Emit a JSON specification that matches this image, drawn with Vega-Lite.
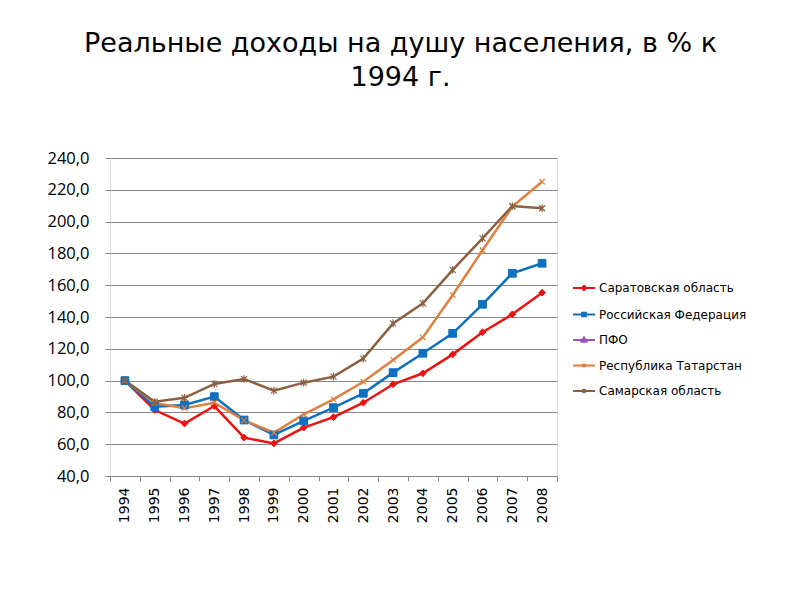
{
  "$schema": "https://vega.github.io/schema/vega-lite/v6.json",
  "width": 447,
  "height": 318,
  "autosize": {"type": "none"},
  "padding": {"left": 110, "top": 158, "right": 243, "bottom": 124},
  "background": "white",
  "title": {
    "text": ["Реальные доходы на душу населения, в % к", "1994 г."],
    "font": "DejaVu Sans",
    "fontSize": 27,
    "fontWeight": "normal",
    "color": "#000000",
    "lineHeight": 34,
    "anchor": "middle",
    "frame": "group",
    "dx": 67,
    "offset": 58
  },
  "data": {
    "values": [
      {"year": "1994", "series": "Саратовская область", "value": 100},
      {"year": "1995", "series": "Саратовская область", "value": 81.5},
      {"year": "1996", "series": "Саратовская область", "value": 73},
      {"year": "1997", "series": "Саратовская область", "value": 84},
      {"year": "1998", "series": "Саратовская область", "value": 64.1},
      {"year": "1999", "series": "Саратовская область", "value": 60.5},
      {"year": "2000", "series": "Саратовская область", "value": 70.4},
      {"year": "2001", "series": "Саратовская область", "value": 77},
      {"year": "2002", "series": "Саратовская область", "value": 86.1},
      {"year": "2003", "series": "Саратовская область", "value": 97.7},
      {"year": "2004", "series": "Саратовская область", "value": 104.6},
      {"year": "2005", "series": "Саратовская область", "value": 116.5},
      {"year": "2006", "series": "Саратовская область", "value": 130.4},
      {"year": "2007", "series": "Саратовская область", "value": 141.7},
      {"year": "2008", "series": "Саратовская область", "value": 155.3},
      {"year": "1994", "series": "Российская Федерация", "value": 100},
      {"year": "1995", "series": "Российская Федерация", "value": 83.6},
      {"year": "1996", "series": "Российская Федерация", "value": 84.7},
      {"year": "1997", "series": "Российская Федерация", "value": 89.9},
      {"year": "1998", "series": "Российская Федерация", "value": 75.2},
      {"year": "1999", "series": "Российская Федерация", "value": 65.8},
      {"year": "2000", "series": "Российская Федерация", "value": 74.6},
      {"year": "2001", "series": "Российская Федерация", "value": 83},
      {"year": "2002", "series": "Российская Федерация", "value": 92},
      {"year": "2003", "series": "Российская Федерация", "value": 105},
      {"year": "2004", "series": "Российская Федерация", "value": 117.2},
      {"year": "2005", "series": "Российская Федерация", "value": 129.7},
      {"year": "2006", "series": "Российская Федерация", "value": 148},
      {"year": "2007", "series": "Российская Федерация", "value": 167.5},
      {"year": "2008", "series": "Российская Федерация", "value": 173.8},
      {"year": "1994", "series": "Республика Татарстан", "value": 100},
      {"year": "1995", "series": "Республика Татарстан", "value": 86},
      {"year": "1996", "series": "Республика Татарстан", "value": 82.6},
      {"year": "1997", "series": "Республика Татарстан", "value": 86.1},
      {"year": "1998", "series": "Республика Татарстан", "value": 75},
      {"year": "1999", "series": "Республика Татарстан", "value": 67.2},
      {"year": "2000", "series": "Республика Татарстан", "value": 78.8},
      {"year": "2001", "series": "Республика Татарстан", "value": 88.2},
      {"year": "2002", "series": "Республика Татарстан", "value": 99.3},
      {"year": "2003", "series": "Республика Татарстан", "value": 113},
      {"year": "2004", "series": "Республика Татарстан", "value": 127.2},
      {"year": "2005", "series": "Республика Татарстан", "value": 153.8},
      {"year": "2006", "series": "Республика Татарстан", "value": 182},
      {"year": "2007", "series": "Республика Татарстан", "value": 209.4},
      {"year": "2008", "series": "Республика Татарстан", "value": 225.1},
      {"year": "1994", "series": "Самарская область", "value": 100},
      {"year": "1995", "series": "Самарская область", "value": 86.7},
      {"year": "1996", "series": "Самарская область", "value": 89.2},
      {"year": "1997", "series": "Самарская область", "value": 97.9},
      {"year": "1998", "series": "Самарская область", "value": 101},
      {"year": "1999", "series": "Самарская область", "value": 93.7},
      {"year": "2000", "series": "Самарская область", "value": 98.7},
      {"year": "2001", "series": "Самарская область", "value": 102.5},
      {"year": "2002", "series": "Самарская область", "value": 113.8},
      {"year": "2003", "series": "Самарская область", "value": 136},
      {"year": "2004", "series": "Самарская область", "value": 148.6},
      {"year": "2005", "series": "Самарская область", "value": 169.6},
      {"year": "2006", "series": "Самарская область", "value": 189.5},
      {"year": "2007", "series": "Самарская область", "value": 209.8},
      {"year": "2008", "series": "Самарская область", "value": 208.4}
    ]
  },
  "encoding": {
    "x": {
      "field": "year",
      "type": "ordinal",
      "title": null,
      "scale": {"paddingInner": 0, "paddingOuter": 0},
      "axis": {
        "labelAngle": -90,
        "labelFont": "DejaVu Sans",
        "labelFontSize": 14,
        "labelColor": "#000000",
        "labelPadding": 6,
        "domainColor": "#888888",
        "tickColor": "#888888",
        "tickSize": 5,
        "tickBand": "extent",
        "grid": false
      }
    },
    "y": {
      "field": "value",
      "type": "quantitative",
      "title": null,
      "scale": {"domain": [40, 240], "nice": false, "zero": false},
      "axis": {
        "values": [40, 60, 80, 100, 120, 140, 160, 180, 200, 220, 240],
        "labelExpr": "replace(format(datum.value, '.1f'), '.', ',')",
        "labelFont": "Open Sans",
        "labelFontSize": 16.5,
        "labelColor": "#000000",
        "labelPadding": 16,
        "ticks": true,
        "tickSize": 5,
        "tickColor": "#888888",
        "domain": false,
        "grid": true,
        "gridColor": "#888888",
        "gridWidth": 1
      }
    }
  },
  "layer": [
    {
      "mark": {"type": "line", "strokeWidth": 2.5},
      "encoding": {
        "color": {
          "field": "series",
          "type": "nominal",
          "scale": {
            "domain": ["Саратовская область", "Российская Федерация", "ПФО", "Республика Татарстан", "Самарская область"],
            "range": ["#EE1111", "#1070C0", "#9B50B8", "#DD8040", "#8B6040"]
          },
          "legend": {
            "title": null,
            "orient": "none",
            "legendX": 462,
            "legendY": 118,
            "labelFont": "DejaVu Sans",
            "labelFontSize": 12,
            "labelColor": "#000000",
            "symbolSize": 484,
            "symbolStrokeWidth": 2,
            "rowPadding": 7.5,
            "labelOffset": 3,
            "encode": {
              "symbols": {
                "update": {
                  "shape": {"signal": "datum.value === 'Саратовская область' ? 'M-1,0H1M0,-0.2L0.2,0L0,0.2L-0.2,0Z' : datum.value === 'Российская Федерация' ? 'M-1,0H1M-0.17,-0.17H0.17V0.17H-0.17Z' : datum.value === 'ПФО' ? 'M-1,0H1M0,-0.22L0.22,0.17H-0.22Z' : datum.value === 'Республика Татарстан' ? 'M-1,0H1M-0.15,-0.15L0.15,0.15M-0.15,0.15L0.15,-0.15' : 'M-1,0H1M-0.15,-0.15L0.15,0.15M-0.15,0.15L0.15,-0.15M0,-0.2V0.2'"},
                  "stroke": {"scale": "color", "field": "value"},
                  "fill": {"scale": "color", "field": "value"},
                  "strokeWidth": {"value": 2},
                  "size": {"value": 484},
                  "opacity": {"value": 1}
                }
              }
            }
          }
        }
      }
    },
    {
      "transform": [{"filter": "datum.series === 'Саратовская область'"}],
      "mark": {"type": "point", "shape": "diamond", "filled": true, "fill": "#EE1111", "stroke": "#EE1111", "strokeWidth": 1, "size": 45, "opacity": 1}
    },
    {
      "transform": [{"filter": "datum.series === 'Российская Федерация'"}],
      "mark": {"type": "point", "shape": "square", "filled": true, "fill": "#1070C0", "stroke": "#1070C0", "strokeWidth": 1, "size": 60, "opacity": 1}
    },
    {
      "transform": [{"filter": "datum.series === 'Республика Татарстан'"}],
      "mark": {"type": "point", "shape": "M-1,-1L1,1M-1,1L1,-1", "filled": false, "stroke": "#DD8040", "strokeWidth": 1.2, "size": 30, "opacity": 1}
    },
    {
      "transform": [{"filter": "datum.series === 'Самарская область'"}],
      "mark": {"type": "point", "shape": "M-1,-1L1,1M-1,1L1,-1M0,-1.3V1.3", "filled": false, "stroke": "#8B6040", "strokeWidth": 1.2, "size": 35, "opacity": 1}
    }
  ]
}
